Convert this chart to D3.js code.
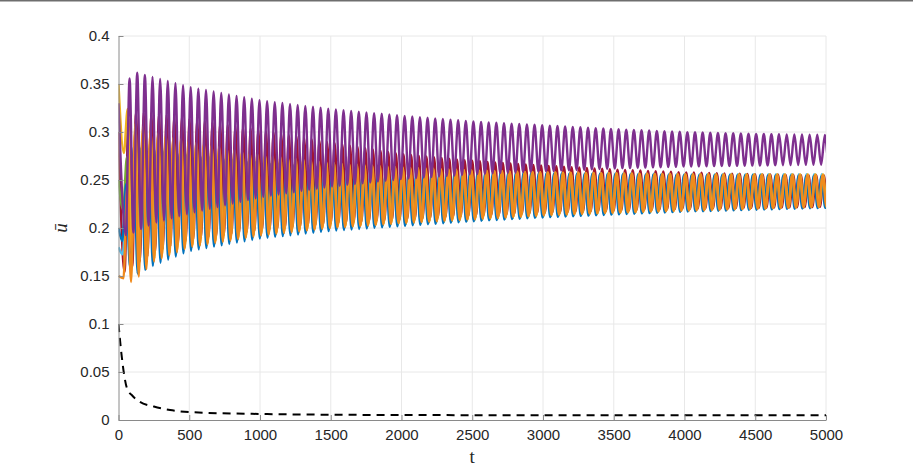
<!DOCTYPE html>
<html>
<head>
<meta charset="utf-8">
<script src="https://cdn.jsdelivr.net/npm/d3@7"></script>
<style>
  body { margin: 0; background: #fff; }
  svg { display: block; }
</style>
</head>
<body>
<script>
// ---- data ----
var xTicks = [0, 500, 1000, 1500, 2000, 2500, 3000, 3500, 4000, 4500, 5000]
var yTicks = [0, 0.05, 0.1, 0.15, 0.2, 0.25, 0.3, 0.35, 0.4]
var yTickLabels = ['0', '0.05', '0.1', '0.15', '0.2', '0.25', '0.3', '0.35', '0.4']

// times where the envelopes were read
var envT = [0, 100, 250, 500, 1000, 1500, 2000, 2500, 3000, 3500, 4000, 4500, 5000]

// upper / lower envelope of each oscillating curve
var redHi    = [0.30, 0.320, 0.320, 0.314, 0.302, 0.289, 0.277, 0.270, 0.265, 0.261, 0.258, 0.256, 0.255]
var redLo    = [0.15, 0.160, 0.175, 0.188, 0.198, 0.205, 0.209, 0.213, 0.216, 0.218, 0.220, 0.221, 0.222]
var greenHi  = [0.25, 0.290, 0.288, 0.280, 0.270, 0.264, 0.260, 0.258, 0.257, 0.256, 0.255, 0.255, 0.254]
var greenLo  = [0.25, 0.155, 0.166, 0.180, 0.192, 0.200, 0.204, 0.208, 0.212, 0.215, 0.218, 0.220, 0.222]
var cyanHi   = [0.18, 0.280, 0.280, 0.274, 0.266, 0.262, 0.259, 0.258, 0.257, 0.257, 0.256, 0.256, 0.256]
var cyanLo   = [0.18, 0.155, 0.165, 0.179, 0.191, 0.199, 0.204, 0.208, 0.212, 0.215, 0.218, 0.220, 0.222]
var blueHi   = [0.20, 0.285, 0.282, 0.276, 0.268, 0.263, 0.260, 0.258, 0.257, 0.256, 0.255, 0.255, 0.254]
var blueLo   = [0.20, 0.150, 0.161, 0.176, 0.189, 0.197, 0.202, 0.207, 0.211, 0.214, 0.217, 0.219, 0.221]
var yellowHi = [0.35, 0.310, 0.300, 0.290, 0.276, 0.268, 0.263, 0.260, 0.258, 0.257, 0.256, 0.256, 0.256]
var yellowLo = [0.35, 0.160, 0.168, 0.182, 0.194, 0.201, 0.206, 0.210, 0.214, 0.216, 0.219, 0.221, 0.223]
var orangeHi = [0.15, 0.300, 0.298, 0.290, 0.276, 0.268, 0.263, 0.260, 0.258, 0.257, 0.256, 0.255, 0.255]
var orangeLo = [0.15, 0.143, 0.165, 0.180, 0.192, 0.200, 0.205, 0.209, 0.213, 0.216, 0.218, 0.220, 0.222]
var purpleHi = [0.33, 0.363, 0.357, 0.347, 0.333, 0.324, 0.317, 0.311, 0.307, 0.303, 0.300, 0.298, 0.297]
var purpleLo = [0.19, 0.195, 0.205, 0.215, 0.232, 0.243, 0.251, 0.256, 0.259, 0.262, 0.264, 0.265, 0.266]

var seriesColors = ['#A2142F', '#77AC30', '#4DBEEE', '#0072BD', '#EDB120', '#F08A1C', '#7E2F8E']
var seriesHi = [redHi, greenHi, cyanHi, blueHi, yellowHi, orangeHi, purpleHi]
var seriesLo = [redLo, greenLo, cyanLo, blueLo, yellowLo, orangeLo, purpleLo]
var seriesPhase = [0.30, 0.10, 0.05, 0.00, 0.20, 0.15, 0.45]  // fraction of a period
var period = 54  // t units per oscillation (about 93 cycles in 5000)

// mean value (dashed black)
var meanT = [0, 20, 40, 60, 100, 150, 250, 365, 530, 1050, 1520, 2000, 3000, 4000, 5000]
var meanV = [0.1, 0.07, 0.047, 0.033, 0.025, 0.019, 0.014, 0.0104, 0.008, 0.0062, 0.0055, 0.0052, 0.005, 0.005, 0.005]

// ---- layout ----
var width = 913
var height = 473
var margin = { left: 118.5, right: 87, top: 36, bottom: 53 }
var innerWidth = width - margin.left - margin.right
var innerHeight = height - margin.top - margin.bottom

var svg = d3.select('body').append('svg').attr('width', width).attr('height', height)
svg.append('rect').attr('width', width).attr('height', height).attr('fill', '#ffffff')
svg.append('line').attr('x1', 0).attr('x2', width).attr('y1', 0.75).attr('y2', 0.75)
    .attr('stroke', '#6e6e6e').attr('stroke-width', 1.5)

var g = svg.append('g').attr('transform', `translate(${margin.left},${margin.top})`)

var xScale = d3.scaleLinear().domain([0, 5000]).range([0, innerWidth])
var yScale = d3.scaleLinear().domain([0, 0.4]).range([innerHeight, 0])

g.append('defs').append('clipPath').attr('id', 'clip')
    .append('rect').attr('x', 0).attr('y', -5).attr('width', innerWidth).attr('height', innerHeight + 5)

// grid
g.append('g').selectAll('line').data(xTicks.slice(1)).enter().append('line')
    .attr('x1', d => xScale(d)).attr('x2', d => xScale(d))
    .attr('y1', 0).attr('y2', innerHeight)
    .attr('stroke', '#e8e8e8').attr('stroke-width', 1)
g.append('g').selectAll('line').data(yTicks.slice(1)).enter().append('line')
    .attr('x1', 0).attr('x2', innerWidth)
    .attr('y1', d => yScale(d)).attr('y2', d => yScale(d))
    .attr('stroke', '#e8e8e8').attr('stroke-width', 1)

// oscillating curves: pass through the alternating peaks / troughs read from the envelopes
var line = d3.line().x(d => xScale(d[0])).y(d => yScale(d[1])).curve(d3.curveMonotoneX)
var plot = g.append('g').attr('clip-path', 'url(#clip)')

seriesColors.forEach((c, i) => {
    var hi = d3.scaleLinear().domain(envT).range(seriesHi[i]).clamp(true)
    var lo = d3.scaleLinear().domain(envT).range(seriesLo[i]).clamp(true)
    var pts = [[0, seriesHi[i][0]]]
    var t0 = seriesPhase[i] * period
    for (var k = 1; t0 + k * period / 2 < 5000 + period; k++) {
        var t = t0 + k * period / 2
        pts.push([t, k % 2 === 0 ? hi(t) : lo(t)])
    }
    plot.append('path').datum(pts)
        .attr('d', line)
        .attr('fill', 'none')
        .attr('stroke', c)
        .attr('stroke-width', 2.4)
})

var meanLine = d3.line().x(d => xScale(d[0])).y(d => yScale(d[1])).curve(d3.curveMonotoneX)
plot.append('path').datum(meanT.map((t, i) => [t, meanV[i]]))
    .attr('d', meanLine)
    .attr('fill', 'none')
    .attr('stroke', '#000')
    .attr('stroke-width', 2)
    .attr('stroke-dasharray', '8,6')

// axes
var xAxis = d3.axisBottom(xScale).tickValues(xTicks).tickFormat(d3.format('d'))
    .tickSizeInner(-5).tickSizeOuter(0).tickPadding(9)
var yAxis = d3.axisLeft(yScale).tickValues(yTicks).tickFormat((d, i) => yTickLabels[i])
    .tickSizeInner(-5).tickSizeOuter(0).tickPadding(9)

var gx = g.append('g').attr('transform', `translate(0,${innerHeight})`).call(xAxis)
var gy = g.append('g').call(yAxis)
;[gx, gy].forEach(a => {
    a.attr('font-family', '"Liberation Sans", Arial, sans-serif').attr('font-size', 15)
    a.select('.domain').attr('stroke', '#8a8a8a').attr('stroke-width', 1)
    a.selectAll('.tick line').attr('stroke', '#8a8a8a')
    a.selectAll('.tick text').attr('fill', '#262626')
})

// labels
svg.append('text').text('t')
    .attr('x', margin.left + innerWidth / 2).attr('y', 463)
    .attr('text-anchor', 'middle')
    .attr('font-family', '"Liberation Serif", "DejaVu Serif", serif').attr('font-size', 19)
    .attr('fill', '#262626')
svg.append('text').text('\u016B')
    .attr('transform', `translate(67,${margin.top + innerHeight / 2}) rotate(-90)`)
    .attr('text-anchor', 'middle')
    .attr('font-family', '"Liberation Serif", "DejaVu Serif", serif').attr('font-size', 19)
    .attr('font-style', 'italic')
    .attr('fill', '#262626')
</script>
</body>
</html>
